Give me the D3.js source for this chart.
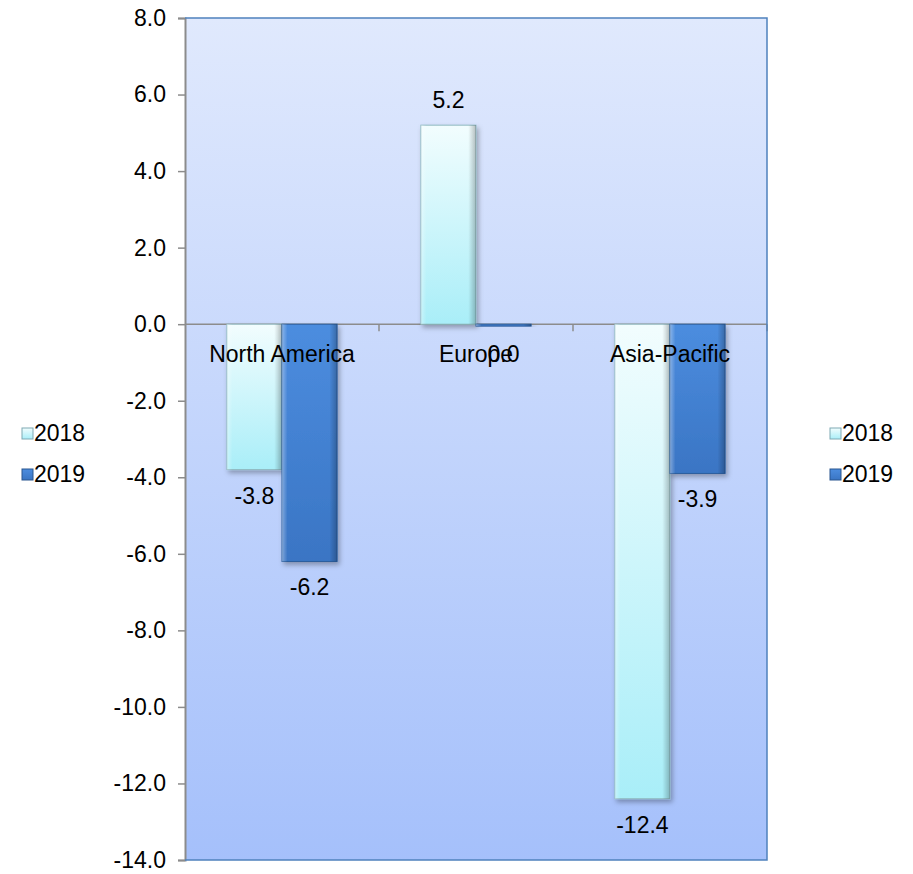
<!DOCTYPE html>
<html>
<head>
<meta charset="utf-8">
<script src="https://cdn.jsdelivr.net/npm/d3@7"></script>
<style>
  body { margin: 0; background: #fff; }
  text { font-family: "Liberation Sans", Arial, sans-serif; }
</style>
</head>
<body>
<svg id="chart" width="913" height="874"></svg>
<script>
// chart data
var categories = ['North America', 'Europe', 'Asia-Pacific'];
var seriesNames = ['2018', '2019'];
var values2018 = [-3.8, 5.2, -12.4];
var values2019 = [-6.2, -0.05, -3.9];
var valueLabels2018 = ['-3.8', '5.2', '-12.4'];
var valueLabels2019 = ['-6.2', '0.0', '-3.9'];
var yTicks = [8, 6, 4, 2, 0, -2, -4, -6, -8, -10, -12, -14];

var svg = d3.select('#chart');
var plotL = 185, plotR = 767, plotT = 18, plotB = 860;
var fs = 23;

var defs = svg.append('defs');

// plot background
var bg = defs.append('linearGradient').attr('id', 'bgGrad')
  .attr('x1', 0).attr('y1', 0).attr('x2', 0).attr('y2', 1);
bg.append('stop').attr('offset', '0%').attr('stop-color', '#e0e9fd');
bg.append('stop').attr('offset', '100%').attr('stop-color', '#a5c0fb');

// 2018 bar fill
var g18 = defs.append('linearGradient').attr('id', 'g18')
  .attr('x1', 0).attr('y1', 0).attr('x2', 0).attr('y2', 1);
g18.append('stop').attr('offset', '0%').attr('stop-color', '#f2fdfe');
g18.append('stop').attr('offset', '100%').attr('stop-color', '#a9eef8');

// 2019 bar fill
var g19 = defs.append('linearGradient').attr('id', 'g19')
  .attr('x1', 0).attr('y1', 0).attr('x2', 0).attr('y2', 1);
g19.append('stop').attr('offset', '0%').attr('stop-color', '#4c8ddf');
g19.append('stop').attr('offset', '100%').attr('stop-color', '#3a75c4');

// side shading for a bevel look
var side = defs.append('linearGradient').attr('id', 'side')
  .attr('x1', 0).attr('y1', 0).attr('x2', 1).attr('y2', 0);
side.append('stop').attr('offset', '0%').attr('stop-color', '#fff').attr('stop-opacity', 0.35);
side.append('stop').attr('offset', '10%').attr('stop-color', '#fff').attr('stop-opacity', 0);
side.append('stop').attr('offset', '86%').attr('stop-color', '#000').attr('stop-opacity', 0);
side.append('stop').attr('offset', '100%').attr('stop-color', '#000').attr('stop-opacity', 0.25);

var shadow = defs.append('filter').attr('id', 'shadow')
  .attr('x', '-20%').attr('y', '-20%').attr('width', '150%').attr('height', '150%');
shadow.append('feDropShadow').attr('dx', 2).attr('dy', 3).attr('stdDeviation', 2.5)
  .attr('flood-color', '#000').attr('flood-opacity', 0.3);

var y = d3.scaleLinear().domain([-14, 8]).range([plotB, plotT]);
var x0 = d3.scaleBand().domain(categories).range([plotL, plotR]).paddingInner(0).paddingOuter(0);
var x1 = d3.scaleBand().domain(seriesNames).range([0, x0.bandwidth()]).paddingInner(0).paddingOuter(0.76);

svg.append('rect')
  .attr('x', plotL).attr('y', plotT)
  .attr('width', plotR - plotL).attr('height', plotB - plotT)
  .attr('fill', 'url(#bgGrad)');

// zero line
svg.append('line')
  .attr('x1', plotL).attr('x2', plotR)
  .attr('y1', y(0)).attr('y2', y(0))
  .attr('stroke', '#8c8c8c').attr('stroke-width', 1.5);

// category tick marks below zero line
svg.selectAll('.ctick')
  .data(categories.slice(1).concat(['end']))
  .enter().append('line')
  .attr('x1', function(d, i){ return plotL + (i + 1) * x0.bandwidth(); })
  .attr('x2', function(d, i){ return plotL + (i + 1) * x0.bandwidth(); })
  .attr('y1', y(0)).attr('y2', y(0) + 7)
  .attr('stroke', '#8c8c8c').attr('stroke-width', 1.5);

var rows = categories.map(function(c, i){
  return [
    {cat: c, s: '2018', v: values2018[i], lab: valueLabels2018[i], fill: 'url(#g18)', edge: '#8fb9c0'},
    {cat: c, s: '2019', v: values2019[i], lab: valueLabels2019[i], fill: 'url(#g19)', edge: '#2d5e9e'}
  ];
});
var bars = [].concat.apply([], rows);

var barG = svg.selectAll('.bar').data(bars).enter().append('g')
  .attr('transform', function(d){ return 'translate(' + (x0(d.cat) + x1(d.s)) + ',0)'; });

barG.append('rect')
  .attr('y', function(d){ return y(Math.max(0, d.v)); })
  .attr('width', x1.bandwidth())
  .attr('height', function(d){ return Math.abs(y(d.v) - y(0)); })
  .attr('fill', function(d){ return d.fill; })
  .attr('stroke', function(d){ return d.edge; })
  .attr('stroke-width', 1)
  .attr('filter', 'url(#shadow)');

barG.append('rect')
  .attr('y', function(d){ return y(Math.max(0, d.v)); })
  .attr('width', x1.bandwidth())
  .attr('height', function(d){ return Math.abs(y(d.v) - y(0)); })
  .attr('fill', 'url(#side)');

// value labels
barG.append('text')
  .attr('x', x1.bandwidth() / 2)
  .attr('y', function(d){
    if (d.lab === '0.0') return y(0) + 38;
    return d.v >= 0 ? y(d.v) - 17 : y(d.v) + 34;
  })
  .attr('text-anchor', 'middle')
  .attr('font-size', fs)
  .attr('fill', '#000')
  .text(function(d){ return d.lab; });

// category labels
svg.selectAll('.cat').data(categories).enter().append('text')
  .attr('x', function(d){ return x0(d) + x0.bandwidth() / 2; })
  .attr('y', y(0) + 38)
  .attr('text-anchor', 'middle')
  .attr('font-size', fs)
  .attr('fill', '#000')
  .text(function(d){ return d; });

// y axis
var yAxis = svg.append('g').attr('transform', 'translate(' + plotL + ',0)')
  .call(d3.axisLeft(y).tickValues(yTicks).tickSize(7).tickPadding(12)
    .tickFormat(function(d){ return d.toFixed(1); }));
yAxis.select('.domain').attr('stroke', '#8c8c8c').attr('stroke-width', 2);
yAxis.selectAll('.tick line').attr('stroke', '#8c8c8c').attr('stroke-width', 1.5);
yAxis.selectAll('.tick text').attr('font-size', fs).attr('fill', '#000')
  .attr('font-family', '"Liberation Sans", Arial, sans-serif');

// plot border top and right
svg.append('path')
  .attr('d', 'M' + plotL + ',' + plotT + 'H' + plotR + 'V' + plotB + 'H' + plotL)
  .attr('fill', 'none').attr('stroke', '#4f81bd').attr('stroke-width', 1.5);

// legends (drawn twice, left and right)
var legendItems = [
  {name: '2018', fill: 'url(#g18)', edge: '#7fa9b4'},
  {name: '2019', fill: 'url(#g19)', edge: '#2a568f'}
];
[22, 830].forEach(function(lx){
  var lg = svg.append('g').attr('transform', 'translate(' + lx + ',433)');
  var it = lg.selectAll('g').data(legendItems).enter().append('g')
    .attr('transform', function(d, i){ return 'translate(0,' + (i * 41) + ')'; });
  it.append('rect').attr('x', 0).attr('y', -5).attr('width', 11).attr('height', 11)
    .attr('fill', function(d){ return d.fill; })
    .attr('stroke', function(d){ return d.edge; });
  it.append('text').attr('x', 12).attr('y', 8)
    .attr('font-size', fs).attr('fill', '#000')
    .text(function(d){ return d.name; });
});
</script>
</body>
</html>
